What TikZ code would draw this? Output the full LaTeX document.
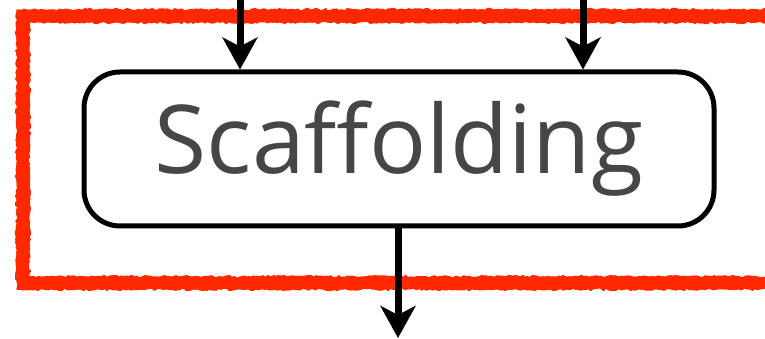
\documentclass[tikz,border=0pt]{standalone}
\usepackage{fontspec}
\setmainfont{Open Sans}
\usetikzlibrary{arrows.meta,decorations.pathmorphing}
\definecolor{marker}{RGB}{255,40,0}
\definecolor{ink}{RGB}{70,70,70}

\begin{document}
\begin{tikzpicture}[x=1pt,y=1pt,
                    >={Stealth[length=32pt,width=35pt,inset=9pt]}]
  \tikzstyle{stage}=[draw,line width=5pt,rounded corners=36pt,
  minimum width=630pt,minimum height=154pt,inner sep=0pt,
  text=ink,font=\fontsize{95}{95}\selectfont]
  \tikzstyle{flow}=[->,line width=7pt]
  \tikzstyle{pen}=[marker,line cap=round,line join=round,
  decorate,decoration={random steps,segment length=2.5pt,amplitude=1.4pt}]
  \useasboundingbox (0,0) rectangle (765,339);
  \clip (0,0) rectangle (765,339);
  \pgfmathsetseed{11}

  % marker frame, open to the right
  \foreach \w/\d in {11/0,4/-4,4/4,2.5/-5.5,2.5/5.5}
    \draw[pen,line width=\w pt]
      (800,323+\d) -- (23-\d,323+\d) -- (23-\d,56-\d) -- (800,56-\d);

  \node[stage] (scaf) at (399,190) {Scaffolding};

  \coordinate (inA) at (240,339);
  \coordinate (inB) at (583,339);
  \coordinate (out) at (398,1);

  \draw[flow] (inA) -- (inA |- scaf.north);
  \draw[flow] (inB) -- (inB |- scaf.north);
  \draw[flow] (out |- scaf.south) -- (out);
\end{tikzpicture}
\end{document}
